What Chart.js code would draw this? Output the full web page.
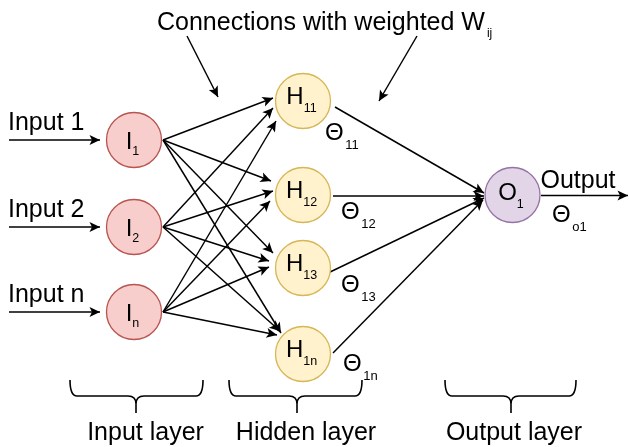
<!DOCTYPE html>
<html><head><meta charset="utf-8">
<script src="https://cdn.jsdelivr.net/npm/chart.js@4/dist/chart.umd.min.js"></script>
<style>html,body{margin:0;padding:0;background:#fff;overflow:hidden}</style>
</head><body>
<canvas id="c" width="629" height="447"></canvas>
<script>
// ---------- data (diagram units) ----------
const titleText = 'Connections with weighted W';
const titleSub = 'ij';
const inputNames = ['Input 1', 'Input 2', 'Input n'];
const inputSubs = ['1', '2', 'n'];
const inputNodeX = [134, 134, 134];
const inputNodeY = [140, 227, 312];
const hiddenSubs = ['11', '12', '13', '1n'];
const hiddenNodeX = [303, 303, 303, 303];
const hiddenNodeY = [101, 195, 268, 354];
const outputSubs = ['1'];
const outputNodeX = [512.5];
const outputNodeY = [195];
const feedStartX = [9, 9, 9];
const feedTipX = [100, 100, 100];
const edgeStartX = [163, 163, 163];
// arrow tips of input -> hidden connections, [input][hidden]
const inHidTipX = [[273, 271, 273, 281], [273, 273, 269, 280], [276, 270, 269, 277]];
const inHidTipY = [[98, 181, 253, 333], [108, 191, 261, 331], [121, 201, 267, 335]];
// hidden -> output connections
const hidOutStartX = [335, 333, 328, 333];
const hidOutStartY = [107, 196, 273, 353];
const hidOutTipX = [484, 484, 484, 483];
const hidOutTipY = [193, 196, 198, 200];
const outArrowX = [541, 628];
const outArrowY = [195.5, 195.5];
const outputWord = 'Output';
// pointer arrows from the title
const titleArrowX = [[187, 218], [417, 379]];
const titleArrowY = [[36, 97], [36, 101]];
// theta (bias) labels
const thetaSubs = ['11', '12', '13', '1n', 'o1'];
const thetaX = [325, 341, 341, 343, 552];
const thetaY = [140, 219, 292, 371, 222];
// layer braces and labels
const layerNames = ['Input layer', 'Hidden layer', 'Output layer'];
const braceLeft = [70, 229, 445];
const braceRight = [203, 362, 576];
const braceMid = [136, 297, 511];
const braceTop = 380, braceFlat = 396, braceTip = 413;
const layerLabelX = [145.5, 306, 514];
const layerLabelY = 440;

// ---------- datasets ----------
const FONT = '"Liberation Sans", Arial, sans-serif';
const edgeStyle = {showLine: true, pointRadius: 0, borderColor: '#000', borderWidth: 1.45, order: 2, arrow: true, fill: false, clip: false};
const datasets = [];
function nodeSet(xs, ys, fill, stroke) {
  return {data: xs.map((x, i) => ({x, y: ys[i]})), showLine: false, pointRadius: 27.5, clip: false,
    pointBackgroundColor: fill, pointBorderColor: stroke, pointBorderWidth: 1.3, order: 0};
}
datasets.push(nodeSet(inputNodeX, inputNodeY, '#f8cecc', '#b85450'));
datasets.push(nodeSet(hiddenNodeX, hiddenNodeY, '#fff2cc', '#d6b656'));
datasets.push(nodeSet(outputNodeX, outputNodeY, '#e1d5e7', '#9673a6'));
inputNodeY.forEach((y, i) => datasets.push(Object.assign({data: [{x: feedStartX[i], y}, {x: feedTipX[i], y}]}, edgeStyle)));
inputNodeY.forEach((y, i) => hiddenNodeY.forEach((_, j) =>
  datasets.push(Object.assign({data: [{x: edgeStartX[i], y}, {x: inHidTipX[i][j], y: inHidTipY[i][j]}]}, edgeStyle))));
hidOutStartX.forEach((x, j) => datasets.push(Object.assign({data: [{x, y: hidOutStartY[j]}, {x: hidOutTipX[j], y: hidOutTipY[j]}]}, edgeStyle)));
datasets.push(Object.assign({data: [{x: outArrowX[0], y: outArrowY[0]}, {x: outArrowX[1], y: outArrowY[1]}]}, edgeStyle));
titleArrowX.forEach((xs, k) => datasets.push(Object.assign({data: [{x: xs[0], y: titleArrowY[k][0]}, {x: xs[1], y: titleArrowY[k][1]}]}, edgeStyle)));

// ---------- drawing plugin ----------
const diagramPlugin = {
  id: 'diagram',
  afterDatasetsDraw(chart) {
    const ctx = chart.ctx, sx = chart.scales.x, sy = chart.scales.y;
    const px = v => sx.getPixelForValue(v), py = v => sy.getPixelForValue(v);
    ctx.save();
    // arrowheads
    chart.data.datasets.forEach((ds, i) => {
      if (!ds.arrow) return;
      const pts = chart.getDatasetMeta(i).data;
      const a = pts[pts.length - 2], b = pts[pts.length - 1];
      const ang = Math.atan2(b.y - a.y, b.x - a.x);
      ctx.save();
      ctx.translate(b.x, b.y); ctx.rotate(ang);
      ctx.beginPath();
      ctx.moveTo(0, 0); ctx.lineTo(-10.5, -5); ctx.lineTo(-8, 0); ctx.lineTo(-10.5, 5); ctx.closePath();
      ctx.fillStyle = '#000'; ctx.fill();
      ctx.restore();
    });
    // braces
    ctx.strokeStyle = '#000'; ctx.lineWidth = 1.6; ctx.lineJoin = 'round';
    braceLeft.forEach((L, k) => {
      const l = px(L), r = px(braceRight[k]), m = px(braceMid[k]);
      const t = py(braceTop), f = py(braceFlat), tip = py(braceTip);
      ctx.beginPath();
      ctx.moveTo(l, t); ctx.quadraticCurveTo(l, f, l + 7, f);
      ctx.lineTo(m - 8, f); ctx.quadraticCurveTo(m, f, m, f + 8); ctx.lineTo(m, tip);
      ctx.moveTo(m, f + 8); ctx.quadraticCurveTo(m, f, m + 8, f);
      ctx.lineTo(r - 7, f); ctx.quadraticCurveTo(r, f, r, t);
      ctx.stroke();
    });
    // text
    ctx.fillStyle = '#000'; ctx.textBaseline = 'alphabetic'; ctx.textAlign = 'left';
    const txt = (s, x, y, size) => { ctx.font = size + 'px ' + FONT; ctx.fillText(s, x, y); return ctx.measureText(s).width; };
    const w1 = txt(titleText, px(157), py(30), 25);
    txt(titleSub, px(157) + w1 + 2, py(37), 12);
    inputNames.forEach((n, i) => txt(n, px(8), py(inputNodeY[i] - 10), 25));
    txt(outputWord, px(540.5), py(188), 25);
    layerNames.forEach((n, k) => {
      ctx.font = '25px ' + FONT; const w = ctx.measureText(n).width;
      ctx.fillText(n, px(layerLabelX[k]) - w / 2, py(layerLabelY));
    });
    // node labels
    const nodeLabel = (main, sub, cx, cy, dMain, dSub) => {
      ctx.font = '24px ' + FONT; const wm = ctx.measureText(main).width;
      ctx.font = '12.5px ' + FONT; const ws = ctx.measureText(sub).width;
      const x0 = px(cx) - 1.5 - (wm + ws) / 2;
      txt(main, x0, py(cy) + dMain, 24);
      txt(sub, x0 + wm, py(cy) + dSub, 12.5);
    };
    inputSubs.forEach((s, i) => nodeLabel('I', s, inputNodeX[i], inputNodeY[i], 8.5, 14.5));
    hiddenSubs.forEach((s, i) => nodeLabel('H', s, hiddenNodeX[i], hiddenNodeY[i], 3, 10.5));
    outputSubs.forEach((s, i) => nodeLabel('O', s, outputNodeX[i], outputNodeY[i], 5, 13));
    // thetas
    thetaSubs.forEach((s, k) => {
      const w = txt('\u0398', px(thetaX[k]), py(thetaY[k]), 24);
      txt(s, px(thetaX[k]) + w + 1.5, py(thetaY[k]) + 9, 13);
    });
    ctx.restore();
  }
};

new Chart(document.getElementById('c'), {
  type: 'scatter',
  data: {datasets},
  options: {
    responsive: false, animation: false, devicePixelRatio: 1, events: [],
    layout: {padding: 0, autoPadding: false},
    plugins: {legend: {display: false}, tooltip: {enabled: false}},
    scales: {
      x: {type: 'linear', min: 0, max: 629, display: false},
      y: {type: 'linear', min: 0, max: 447, reverse: true, display: false}
    },
    elements: {line: {tension: 0}}
  },
  plugins: [diagramPlugin]
});
</script>
</body></html>
